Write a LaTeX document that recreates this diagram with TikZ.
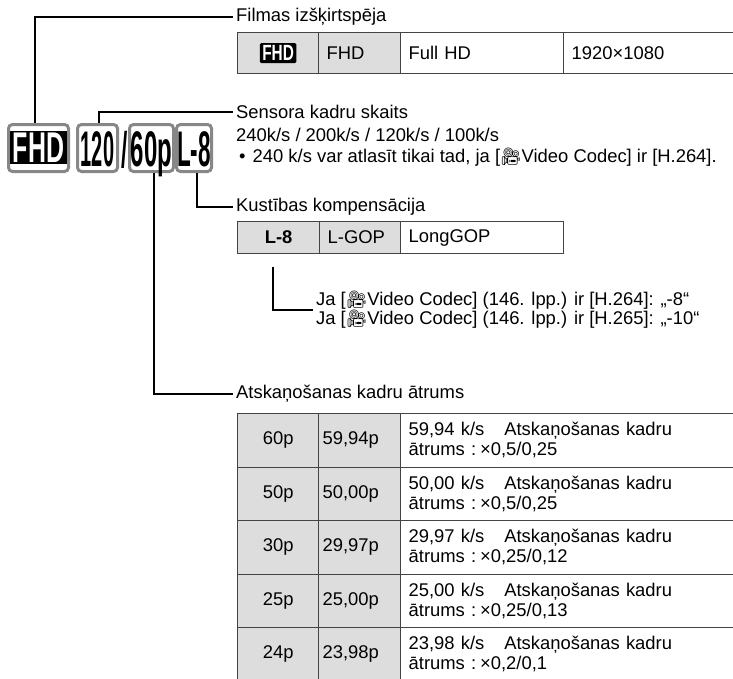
\documentclass[tikz,border=0pt]{standalone}
\usepackage{fontspec}
\usepackage{graphicx}
\usepackage{xcolor}
\usepackage{tikz}
\usetikzlibrary{positioning,calc}
\setmainfont{Liberation Sans}
\newfontfamily\emojifont{Noto Emoji}
\definecolor{CellGray}{RGB}{221,221,221}
\definecolor{RuleGray}{RGB}{68,68,68}
\definecolor{BadgeGray}{RGB}{135,135,135}
\newcommand{\camicon}{{\emojifont\fontsize{17}{17}\selectfont 🎥}}
\newcommand{\icontext}[3]{\scalebox{#1}[1]{\fontsize{#2}{#2}\selectfont\bfseries #3}}

\begin{document}
\begin{tikzpicture}[x=1pt,y=-1pt,
    lead/.style={line width=2.2pt},
    lbl/.style={anchor=west, inner xsep=3pt, inner ysep=1pt, font=\fontsize{18.4}{20}\selectfont},
    cell/.style={draw=RuleGray, line width=1.3pt, anchor=north west, inner xsep=8pt, inner ysep=0pt, font=\fontsize{18.4}{20}\selectfont},
    badge/.style={draw=BadgeGray, line width=3pt, rounded corners=4pt, minimum height=47pt, inner sep=0pt, text height=36pt, text depth=0pt}
  ]
  \useasboundingbox (0,0) rectangle (733,678);
  \clip (0,0) rectangle (733,678);
  \fill[white] (0,0) rectangle (733,678);

  \node[badge, minimum width=60pt] (fhd) at (38.5,148) {};
  \node[fill=black, inner xsep=3pt, inner ysep=2pt, text=white] (fhdmark) at (38.5,147.5) {\icontext{0.58}{43}{FHD}};
  \node[badge, minimum width=40pt] (fps120) at (97.5,148) {\icontext{0.40}{50}{120}};
  \node[badge, minimum width=44pt] (fps60) at (151.5,148) {\icontext{0.48}{50}{60p}};
  \node[badge, minimum width=35pt] (lgop) at (194,148) {\icontext{0.45}{50}{L-8}};
  \node[anchor=base, inner sep=0pt] (slash) at (124.5,167) {\icontext{0.45}{50}{/}};

  \node[lbl] (res) at (233,17) {Filmas izšķirtspēja};
  \node[cell, fill=CellGray, minimum width=81pt, minimum height=41pt] (res1) at (237,32) {};
  \node[fill=black, text=white, rounded corners=1.5pt, inner xsep=2.5pt, inner ysep=2.5pt] (resmark) at (res1.center) {\icontext{0.7}{22}{FHD}};
  \node[cell, fill=CellGray, text width=66pt, minimum height=41pt, align=left] (res2) at (318,32) {FHD};
  \node[cell, text width=147pt, minimum height=41pt, align=left] (res3) at (400,32) {Full HD};
  \node[cell, text width=284pt, minimum height=41pt, align=left] (res4) at (563,32) {1920×1080};

  \node[lbl] (sens) at (233,112) {Sensora kadru skaits};
  \node[lbl] (rates) at (233,135) {240k/s / 200k/s / 120k/s / 100k/s};
  \node[lbl] (ratenote) at (236,157) {•\hspace{7pt}240 k/s var atlasīt tikai tad, ja [\camicon Video Codec] ir [H.264].};

  \node[lbl] (comp) at (233,207) {Kustības kompensācija};
  \node[cell, fill=CellGray, minimum width=82pt, minimum height=32pt, font=\fontsize{18.4}{20}\selectfont\bfseries] (gop1) at (237,221) {L-8};
  \node[cell, fill=CellGray, text width=65pt, minimum height=32pt, align=left] (gop2) at (319,221) {L-GOP};
  \node[cell, text width=147pt, minimum height=32pt, align=left] (gop3) at (400,221) {LongGOP};
  \coordinate (codectop) at ([xshift=-6pt,yshift=-13pt]gop1.south);
  \node[lbl, align=left, font=\fontsize{18.4}{19}\selectfont] (codec) at (313,310) {Ja [\camicon Video Codec] (146. lpp.) ir [H.264]: „-8“\\Ja [\camicon Video Codec] (146. lpp.) ir [H.265]: „-10“};

  \node[lbl] (play) at (233,394) {Atskaņošanas kadru ātrums};
  \foreach \tag/\rate/\mult [count=\i] in {60p/{59,94}/{0,5/0,25}, 50p/{50,00}/{0,5/0,25}, 30p/{29,97}/{0,25/0,12}, 25p/{25,00}/{0,25/0,13}, 24p/{23,98}/{0,2/0,1}} {
    \node[cell, fill=CellGray, minimum width=81pt, minimum height=53.5pt] (tag\i) at (237,{413+53.5*(\i-1)}) {\tag};
    \node[cell, fill=CellGray, text width=74pt, inner xsep=4pt, minimum height=53.5pt, align=left] (sys\i) at (318,{413+53.5*(\i-1)}) {\rate p};
    \node[cell, text width=400pt, minimum height=53.5pt, align=left] (speed\i) at (400,{413+53.5*(\i-1)}) {\rate{} k/s\hspace{20pt}Atskaņošanas kadru\\ātrums :\hspace{4pt}×\mult};
  }

  \draw[lead] ([xshift=-3.5pt]fhd.north) |- (res.west);
  \draw[lead] ([xshift=1.5pt]fps120.north) |- (sens.west);
  \draw[lead] ([xshift=3pt]lgop.south) |- (comp.west);
  \draw[lead] (codectop) |- (codec.west);
  \draw[lead] ([xshift=2.5pt]fps60.south) |- (play.west);
\end{tikzpicture}
\end{document}
